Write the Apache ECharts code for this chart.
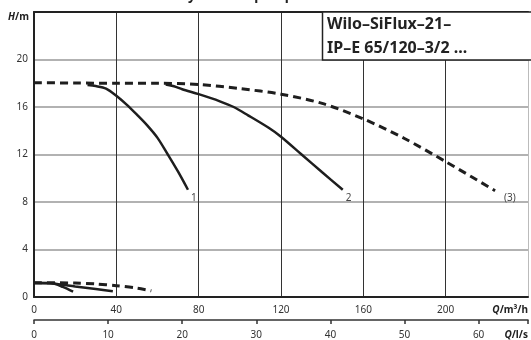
<!DOCTYPE html>
<html><head><meta charset="utf-8">
<script src="https://cdn.jsdelivr.net/npm/echarts@6/dist/echarts.min.js"></script>
<style>html,body{margin:0;padding:0;background:#fff}#c{width:531px;height:340px}</style>
</head><body><div id="c"></div>
<script>
// Q in m³/h, H in m
const curve1 = [[26,17.85],[30,17.76],[35,17.55],[40,16.95],[45,16.2],[50,15.35],[55,14.45],[60,13.4],[65,12.0],[70,10.55],[74.8,9.03]];
const curve2 = [[64,17.9],[68,17.75],[72,17.5],[80,17.08],[90,16.5],[97,16.0],[104,15.3],[114,14.25],[120,13.5],[130,12.0],[140,10.5],[150,9.03]];
const curveMax = [[0,18.05],[20,18.02],[40,18.0],[60,18.0],[80,17.9],[100,17.55],[120,17.08],[140,16.3],[160,15.0],[180,13.35],[200,11.4],[224,8.95]];
const low1 = [[0,1.17],[6,1.17],[10,1.12],[14,0.85],[19,0.45]];
const low2 = [[0,1.17],[8,1.15],[12,1.08],[20,0.89],[30,0.67],[38.3,0.48]];
const lowMax = [[0,1.2],[20,1.18],[30,1.1],[40,0.95],[50,0.75],[57,0.52]];
const curveLabels = ['1','2','(3)'];
const qTickMax = 240;   // m³/h
const hTickMax = 24;    // m
const lsMax = 240/3.6;  // l/s

const FONT = 'Noto Sans';
const INK = '#1e1e1e';
const chart = echarts.init(document.getElementById('c'), null, {renderer:'canvas'});

function solid(data, label){
  return {type:'line', data, symbol:'none', smooth:0.3, xAxisIndex:0, yAxisIndex:0,
    lineStyle:{color:INK, width:2.5}, z:3,
    endLabel: label ? {show:true, formatter:label, color:'#444', fontSize:10, fontFamily:FONT, distance:3, offset:[0,8]} : {show:false}};
}
function dashed(data, label){
  return {type:'line', data, symbol:'none', smooth:0.3, xAxisIndex:0, yAxisIndex:0,
    lineStyle:{color:INK, width:3, type:[8,5]}, z:4,
    endLabel: label ? {show:true, formatter:label, color:'#444', fontSize:10, fontFamily:FONT, distance:9, offset:[0,7]} : {show:false}};
}

const option = {
  animation:false,
  textStyle:{fontFamily:FONT},
  grid:{left:34, right:0, top:12, bottom:40},
  xAxis:[
    {type:'value', min:0, max:qTickMax, interval:40, position:'bottom',
     axisLine:{onZero:false, lineStyle:{color:'#222', width:2}}, axisTick:{show:false},
     axisLabel:{margin:8, fontSize:10, color:'#333', alignMaxLabel:'right',
       formatter:v => v===qTickMax ? '{q|Q}{u|/m³/h}' : String(v),
       rich:{q:{fontStyle:'italic', fontWeight:'bold', fontSize:10, color:'#222'}, u:{fontWeight:'bold', fontSize:10, color:'#222'}}},
     splitLine:{show:true, showMinLine:false, showMaxLine:false, lineStyle:{color:'#333', width:1}}},
    {type:'value', min:0, max:lsMax, interval:10, position:'bottom', offset:23,
     axisLine:{show:true, onZero:false, lineStyle:{color:'#333', width:1.5}}, axisTick:{show:true, length:4, lineStyle:{color:'#333', width:1.5}},
     axisLabel:{margin:10, fontSize:10, color:'#333', alignMaxLabel:'right',
       formatter:v => v>61 ? '{q|Q}{u|/l/s}' : String(Math.round(v)),
       rich:{q:{fontStyle:'italic', fontWeight:'bold', fontSize:10, color:'#222'}, u:{fontWeight:'bold', fontSize:10, color:'#222'}}},
     splitLine:{show:false}},
    {type:'value', min:0, max:qTickMax, position:'top',
     axisLine:{onZero:false, lineStyle:{color:'#222', width:2}}, axisTick:{show:false}, axisLabel:{show:false}, splitLine:{show:false}}
  ],
  yAxis:[
    {type:'value', min:0, max:hTickMax, interval:4, position:'left',
     axisLine:{show:true, onZero:false, lineStyle:{color:'#222', width:2}}, axisTick:{show:false},
     axisLabel:{margin:6, fontSize:10, color:'#333', formatter:v => v===hTickMax ? '' : String(v)},
     splitLine:{show:true, showMinLine:false, showMaxLine:false, lineStyle:{color:'#999', width:1.5}}},
    {type:'value', min:0, max:hTickMax, position:'right',
     axisLine:{show:true, onZero:false, lineStyle:{color:'#bbb', width:1}}, axisTick:{show:false}, axisLabel:{show:false}, splitLine:{show:false}}
  ],
  graphic:[
    {type:'text', left:8, top:12, z:10, style:{text:'{h|H}{m|/m}', rich:{h:{fontStyle:'italic', fontWeight:'bold', fontSize:10, fill:'#222', fontFamily:FONT}, m:{fontWeight:'bold', fontSize:10, fill:'#222', fontFamily:FONT}}}},
    {type:'text', x:172, y:3, z:10, style:{text:'Dry-rotor IL pump', font:'bold 13.5px "Noto Sans"', fill:'#222', verticalAlign:'bottom'}},
    {type:'rect', z:50, shape:{x:322.5, y:12, width:210, height:48}, style:{fill:'#fff', stroke:'#222', lineWidth:1.5}},
    {type:'text', x:327, y:24, z:51, style:{text:'Wilo–SiFlux–21–', font:'bold 16px "Noto Sans"', fill:'#222', verticalAlign:'middle'}},
    {type:'text', x:327, y:48, z:51, style:{text:'IP–E 65/120–3/2 ...', font:'bold 16px "Noto Sans"', fill:'#222', verticalAlign:'middle'}}
  ],
  series:[
    solid(curve1, curveLabels[0]),
    solid(curve2, curveLabels[1]),
    dashed(curveMax, curveLabels[2]),
    solid(low1), solid(low2), dashed(lowMax)
  ]
};
chart.setOption(option);
</script></body></html>
